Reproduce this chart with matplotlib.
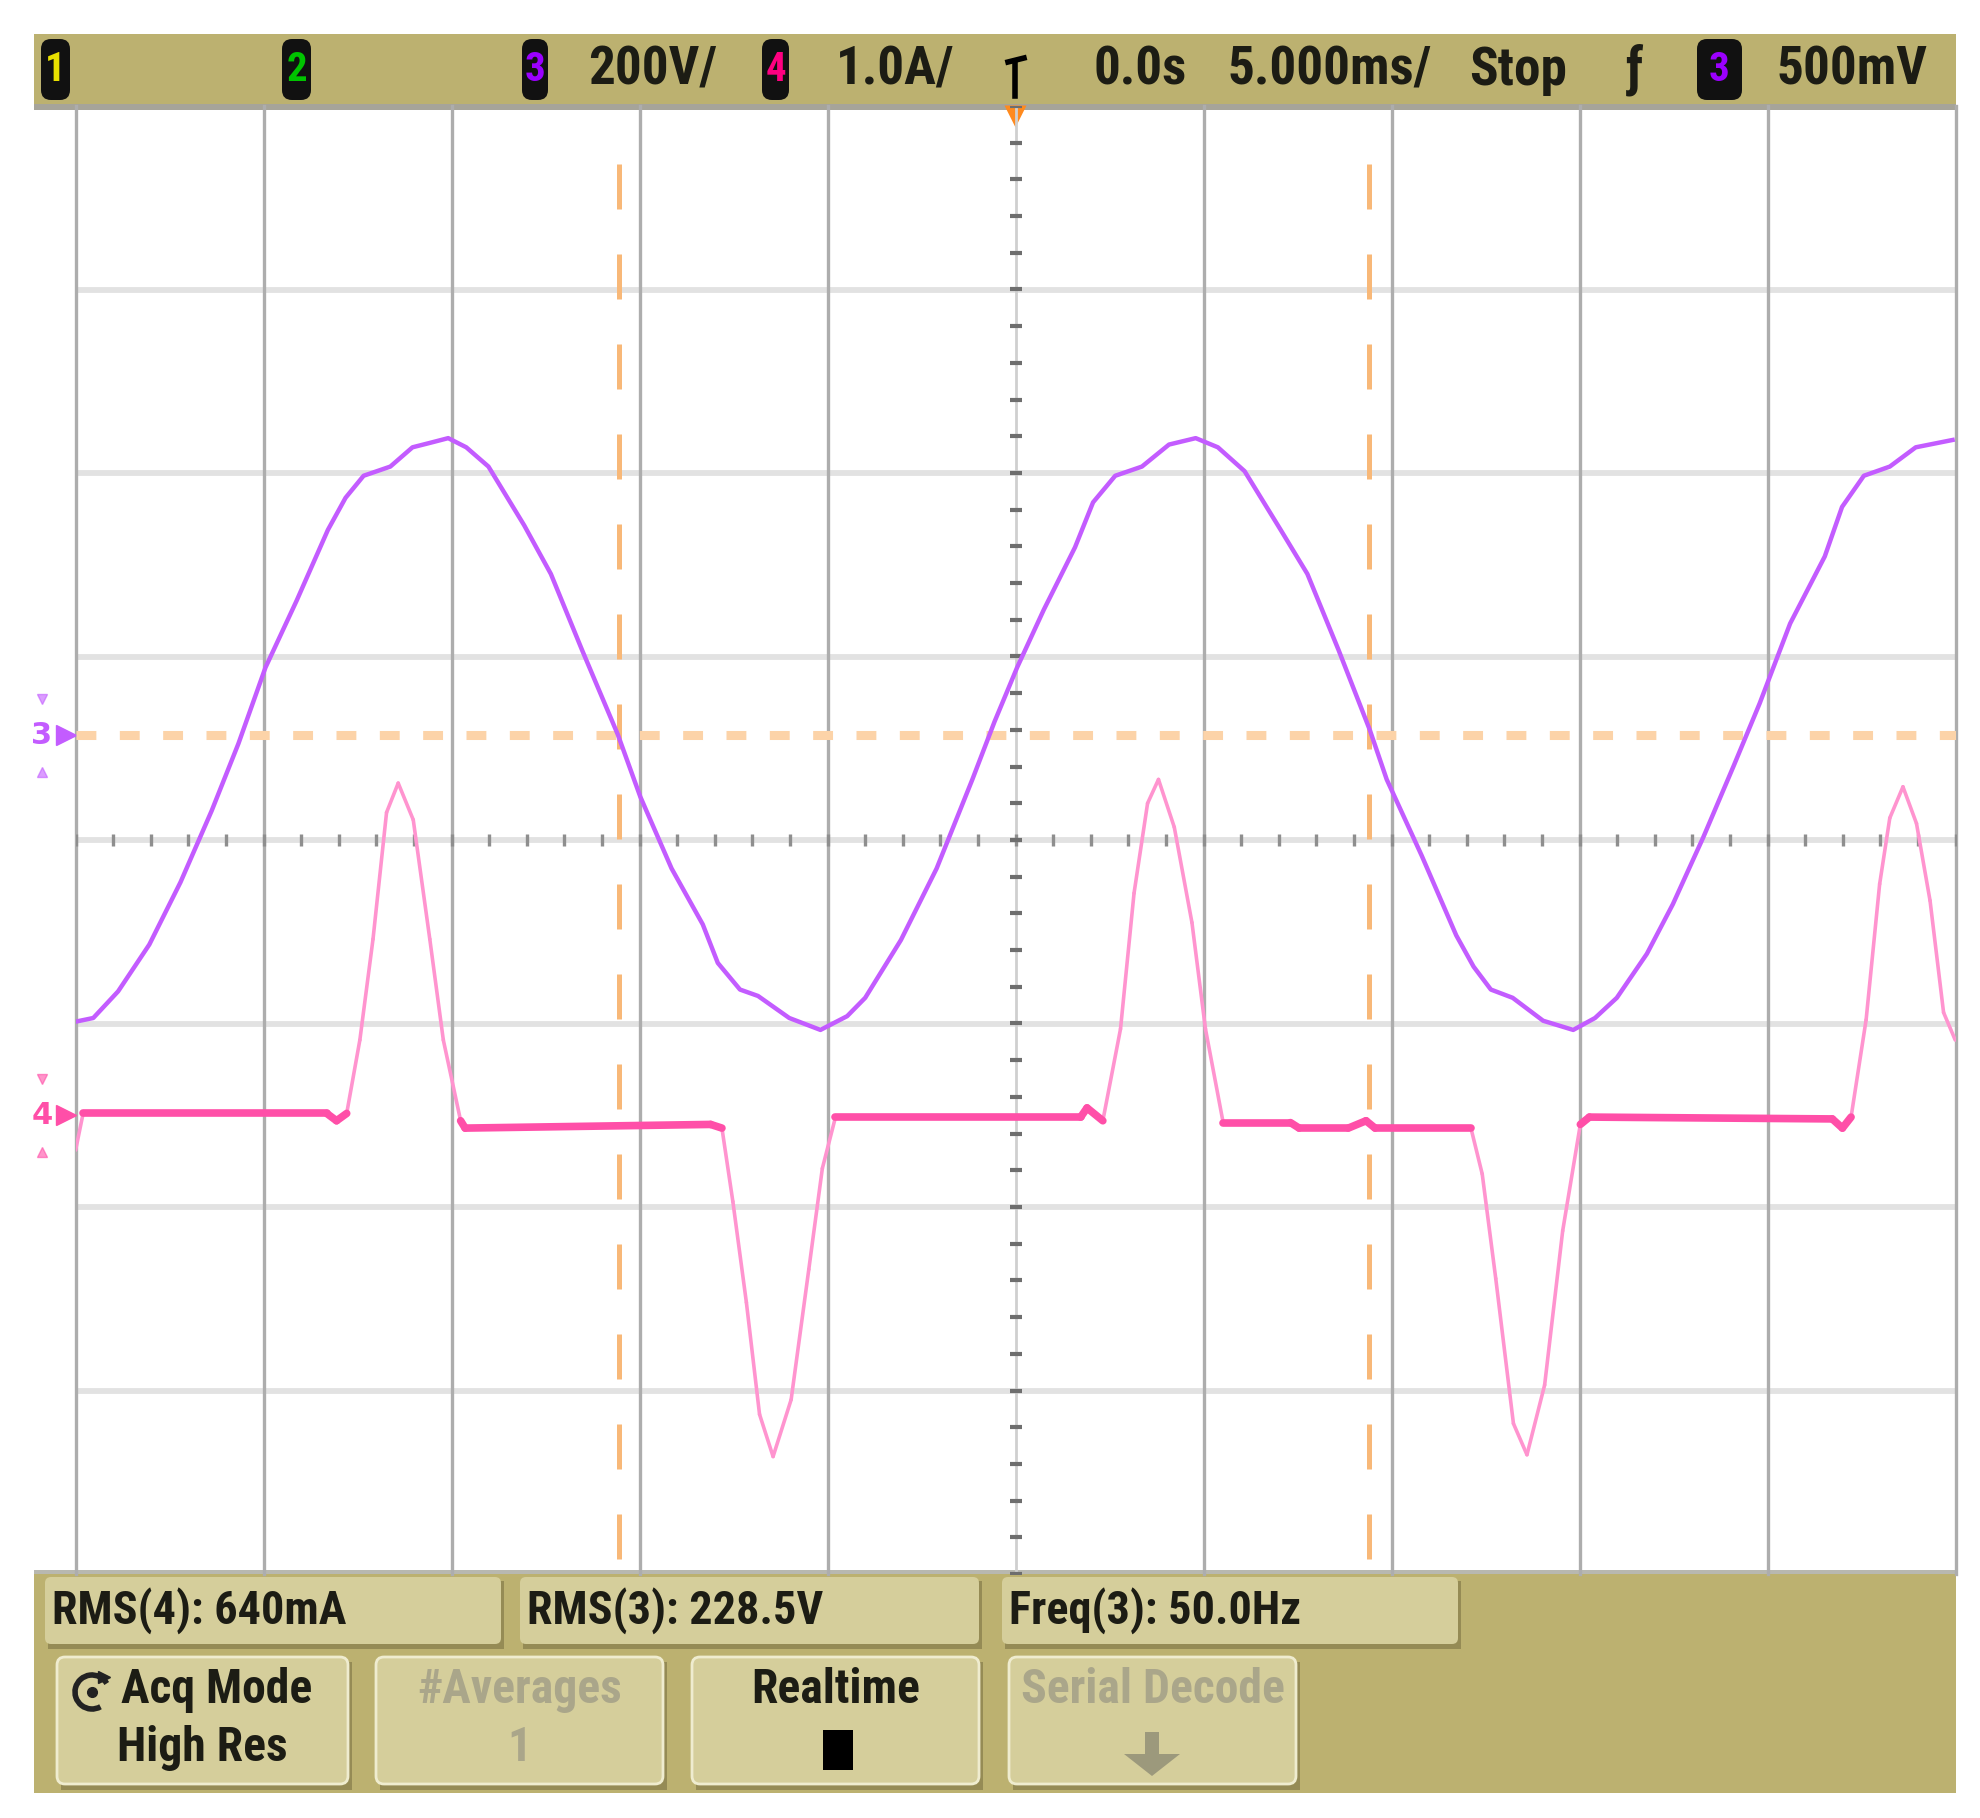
""" Oscilloscope capture: mains voltage (ch3) and line current (ch4)
    Redrawn from a scope screenshot, 5 ms/div, 200 V/div, 1 A/div
"""

import numpy as np
import matplotlib.pyplot as plt
import matplotlib.patches as mpatches
from matplotlib import font_manager as fm
from matplotlib.collections import LineCollection

# Channel 3 voltage (time in ms, volts)
T_V = [-25.0, -24.53, -23.87, -23.04, -22.21, -21.38, -20.67, -19.95, -19.12, -18.29,
       -17.82, -17.34, -16.63, -16.04, -15.56, -15.09, -14.61, -14.02, -13.07, -12.36,
       -11.53, -10.58, -9.98, -9.15, -8.32, -7.92, -7.33, -6.85, -6.02, -5.19,
       -4.48, -4.0, -3.05, -2.10, -1.15, -0.56, 0.04, 0.75, 1.58, 2.06,
       2.65, 3.36, 4.08, 4.79, 5.38, 6.09, 7.05, 7.76, 8.59, 9.42,
       9.87, 10.80, 11.72, 12.18, 12.64, 13.22, 14.03, 14.83, 15.41, 15.99,
       16.79, 17.48, 18.29, 19.10, 19.79, 20.60, 21.52, 21.98, 22.56, 23.25,
       23.94, 24.92]
V3 = [-312, -308, -279, -228, -160, -82, -9, 74, 147, 224,
      259, 283, 293, 314, 319, 324, 314, 293, 229, 176,
      93, 1, -67, -145, -206, -248, -277, -284, -308, -321,
      -306, -286, -223, -145, -48, 15, 74, 137, 205, 254,
      283, 293, 317, 324, 314, 288, 224, 176, 93, 6,
      -48, -131, -218, -252, -277, -286, -311, -321, -308, -286,
      -238, -184, -111, -33, 35, 122, 195, 249, 283, 293,
      314, 322]

# Channel 4 current (time in ms, amps)
T_I = [-25.0, -24.8, -18.32, -18.06, -17.79, -17.44, -17.09, -16.73, -16.42, -16.02,
       -15.58, -15.22, -14.76, -14.64, -8.11, -7.81, -7.52, -7.16, -6.81, -6.45,
       -5.97, -5.50, -5.14, -4.79, 1.73, 1.90, 2.32, 2.79, 3.15, 3.51,
       3.80, 4.22, 4.69, 5.05, 5.52, 7.31, 7.54, 8.85, 9.32, 9.56,
       12.11, 12.41, 12.77, 13.24, 13.60, 14.07, 14.55, 15.02, 15.26, 21.72,
       21.99, 22.22, 22.62, 22.98, 23.25, 23.60, 23.96, 24.32, 24.68, 24.99]
I4 = [-0.19, 0.01, 0.01, -0.03, 0.01, 0.41, 0.96, 1.65, 1.81, 1.61,
      0.96, 0.41, -0.03, -0.07, -0.05, -0.07, -0.47, -1.02, -1.63, -1.86,
      -1.55, -0.84, -0.29, -0.01, -0.01, 0.04, -0.03, 0.47, 1.21, 1.70,
      1.83, 1.57, 1.05, 0.47, -0.04, -0.04, -0.07, -0.07, -0.03, -0.07,
      -0.07, -0.32, -0.89, -1.68, -1.85, -1.47, -0.63, -0.05, -0.01, -0.02,
      -0.07, -0.01, 0.52, 1.26, 1.62, 1.79, 1.59, 1.17, 0.56, 0.41]

# Scope settings
MS_PER_DIV = 5.0
V_PER_DIV = 200.0
A_PER_DIV = 1.0
V_OFFSET = 0.57    # ch3 ground, divisions above centre
I_OFFSET = -1.50   # ch4 ground
CURSOR_T = [-10.55, 9.40]
CURSOR_V = 0.0

# Screen texts
TOP_LABELS = ["200V/", "1.0A/", "0.0s", "5.000ms/", "Stop", "ƒ", "500mV"]
CHANNELS = ["1", "2", "3", "4", "3"]
MEAS_LABELS = ["RMS(4): 640mA", "RMS(3): 228.5V", "Freq(3): 50.0Hz"]
SOFTKEYS = [("Acq Mode", "High Res"), ("#Averages", "1"), ("Realtime", ""), ("Serial Decode", "")]
SOFTKEY_ON = [True, False, True, False]

# Colours
C_BAR = '#bcb170'
C_BOX = '#d5ce9b'
C_SHADOW = '#958b55'
C_GREYTXT = '#aaa68a'
C_TXT = '#1c1c14'
C_V = '#c35cff'
C_I = '#ff4fa8'
C_I_THIN = '#ff94cf'
C_CURSOR = '#f8b878'
C_CURSOR_H = '#fcd3a8'
C_GRID_V = '#adadad'
C_GRID_H = '#e2e2e2'
C_CH = ['#e8e000', '#00c400', '#9b00ff', '#ff0080', '#9b00ff']

# Pixel layout of the screen
W, H = 1980, 1818
SCR_L, SCR_R = 34, 1956
BAR_T, BAR_B = 34, 104
GRID_L, GRID_R = 75.6, 1955.6
GRID_T, GRID_B = 106, 1574
PANEL_B = 1793

# Pick a narrow bold face for the scope lettering, if one is installed
FONT_FILE, FS = None, 0.72
prefs = [('LiberationSansNarrow-Bold', 1.0), ('RobotoCondensed-Bold', 0.98),
         ('OpenSansCondensed-Bold', 0.98), ('DejaVuSansCondensed-Bold', 0.8)]
files = [f.fname for f in fm.fontManager.ttflist]
for key, scale in prefs:
    hit = [p for p in files if key.lower() in p.lower().replace(' ', '').replace('_', '')]
    if hit:
        FONT_FILE, FS = hit[0], scale
        break


def label(x, y, s, size, color=C_TXT, **kw):
    """ Put scope lettering on the pixel axes """
    if FONT_FILE:
        fp = fm.FontProperties(fname=FONT_FILE, size=size * FS)
    else:
        fp = fm.FontProperties(family='DejaVu Sans', weight='bold', size=size * FS)
    return bg.text(x, y, s, fontproperties=fp, color=color, va='center', **kw)


fig = plt.figure(figsize=(W / 100, H / 100), dpi=100)
fig.patch.set_facecolor('white')

# Background axes in pixels, for the scope chrome
bg = fig.add_axes([0, 0, 1, 1])
bg.set_xlim(0, W)
bg.set_ylim(H, 0)
bg.axis('off')

# Top status bar
bg.add_patch(mpatches.Rectangle((SCR_L, BAR_B), SCR_R - SCR_L, 6, color='#a6a49a', lw=0))
bg.add_patch(mpatches.Rectangle((SCR_L, BAR_T), SCR_R - SCR_L, BAR_B - BAR_T, color=C_BAR, lw=0))

ch_x = [(41, 70), (282, 311), (522, 548), (762, 789), (1697, 1742)]
for (x0, x1), lab, col in zip(ch_x, CHANNELS, C_CH):
    bg.add_patch(mpatches.FancyBboxPatch((x0, 39), x1 - x0, 61, boxstyle='round,pad=0,rounding_size=10',
                                         color='#111111', lw=0))
    label((x0 + x1) / 2, 70, lab, 30, color=col, ha='center')

top_x = [653, 895, 1140, 1330, 1518, 1635, 1852]
for x, lab in zip(top_x, TOP_LABELS):
    label(x, 70, lab, 39, ha='center')

# trigger position marker
bg.plot([1015, 1015], [62, 96], color='black', lw=4)
bg.plot([1008, 1024], [62, 58], color='black', lw=4)
bg.plot(1015, 116, marker='v', ms=16, color='#ff8a1e', mec='none', clip_on=False)

# Bottom panel
bg.add_patch(mpatches.Rectangle((SCR_L, GRID_B - 4), SCR_R - SCR_L, 4, color='#b8b8b0', lw=0))
bg.add_patch(mpatches.Rectangle((SCR_L, GRID_B), SCR_R - SCR_L, PANEL_B - GRID_B, color=C_BAR, lw=0))

meas_x = [(45, 501), (520, 979), (1002, 1458)]
for (x0, x1), lab in zip(meas_x, MEAS_LABELS):
    bg.add_patch(mpatches.Rectangle((x0 + 3, 1581), x1 - x0, 68, color=C_SHADOW, lw=0))
    bg.add_patch(mpatches.FancyBboxPatch((x0, 1577), x1 - x0, 67, boxstyle='round,pad=0,rounding_size=6',
                                         color=C_BOX, lw=0))
    label(x0 + 7, 1611, lab, 34, ha='left')

key_x = [(57, 348), (376, 663), (692, 979), (1009, 1296)]
for (x0, x1), (l1, l2), on in zip(key_x, SOFTKEYS, SOFTKEY_ON):
    bg.add_patch(mpatches.Rectangle((x0 + 4, 1662), x1 - x0, 128, color=C_SHADOW, lw=0))
    bg.add_patch(mpatches.FancyBboxPatch((x0, 1657), x1 - x0, 127, boxstyle='round,pad=0,rounding_size=8',
                                         fc=C_BOX, ec='#efeccf', lw=2))
    col = C_TXT if on else C_GREYTXT
    xc = (x0 + x1) / 2
    if l1 == "Acq Mode":
        label(xc + 14, 1690, l1, 35, color=col, ha='center')
        bg.add_patch(mpatches.Arc((92, 1692), 34, 34, theta1=60, theta2=330, lw=4, color='#222222'))
        bg.plot(92, 1692, marker='o', ms=7, color='#222222')
        bg.plot(104, 1677, marker='>', ms=9, color='#222222')
    else:
        label(xc, 1690, l1, 35, color=col, ha='center')
    if l2:
        label(xc, 1748, l2, 35, color=col, ha='center')

# Realtime indicator and serial decode arrow
bg.add_patch(mpatches.Rectangle((823, 1730), 30, 40, color='black', lw=0))
bg.add_patch(mpatches.FancyArrow(1152, 1732, 0, 22, width=14, head_width=56, head_length=22,
                                 length_includes_head=False, color='#9c997c', lw=0))

# Graticule axes, x in ms, y in divisions
ax = fig.add_axes([GRID_L / W, 1 - GRID_B / H, (GRID_R - GRID_L) / W, (GRID_B - GRID_T) / H])
ax.set_xlim(-5 * MS_PER_DIV, 5 * MS_PER_DIV)
ax.set_ylim(-4, 4)
ax.axis('off')
ax.patch.set_visible(False)

# grid
for k in range(-3, 4):
    ax.axhline(k, color=C_GRID_H, lw=4.2, zorder=1)
for k in range(-5, 6):
    if k != 0:
        ax.axvline(k * MS_PER_DIV, color=C_GRID_V, lw=2.4, zorder=1, clip_on=False)
ax.axvline(0, color='#cfcfcf', lw=2.0, zorder=1)
minor_t = np.arange(-5 * MS_PER_DIV, 5 * MS_PER_DIV + 0.01, MS_PER_DIV / 5)
minor_y = np.arange(-4, 4.01, 0.2)
ax.plot(minor_t, np.zeros_like(minor_t), ls='none', marker='|', ms=9, mew=2.4, color='#8e8e8e', zorder=2)
ax.plot(np.zeros_like(minor_y), minor_y, ls='none', marker='_', ms=8, mew=3, color='#6e6e6e', zorder=2)

# cursors
for t in CURSOR_T:
    ax.axvline(t, ymin=0.01, ymax=0.99, color=C_CURSOR, lw=3.6, ls=(0, (9, 9)), zorder=3)
ax.axhline(V_OFFSET + CURSOR_V / V_PER_DIV, color=C_CURSOR_H, lw=6.5, ls=(0, (2.2, 2.6)),
           dash_capstyle='butt', zorder=3)

# voltage trace
ax.plot(T_V, V_OFFSET + np.array(V3) / V_PER_DIV, color=C_V, lw=3.2, zorder=5,
        solid_joinstyle='round')

# current trace: thin on the fast edges, bright where it sits flat
yi = I_OFFSET + np.array(I4) / A_PER_DIV
pts = np.column_stack([T_I, yi])
segs = np.stack([pts[:-1], pts[1:]], axis=1)
flat = np.abs(np.diff(I4)) < 0.1
ax.add_collection(LineCollection(segs, colors=C_I_THIN, linewidths=2.6, zorder=4, capstyle='round'))
ax.add_collection(LineCollection(segs[flat], colors=C_I, linewidths=5.5, zorder=4, capstyle='round'))

# ground markers left of the graticule
for off, lab, col in [(V_OFFSET, "3", C_V), (I_OFFSET, "4", C_I)]:
    ax.text(-25.9, off, lab, color=col, ha='center', va='center', fontsize=22,
            fontweight='bold', clip_on=False)
    ax.plot(-25.25, off, marker='>', ms=14, color=col, clip_on=False)
    ax.plot(-25.9, off + 0.2, marker='v', ms=7, color=col, alpha=0.6, clip_on=False)
    ax.plot(-25.9, off - 0.2, marker='^', ms=7, color=col, alpha=0.6, clip_on=False)

plt.savefig('out.png', dpi=100, facecolor='white')
plt.close()
